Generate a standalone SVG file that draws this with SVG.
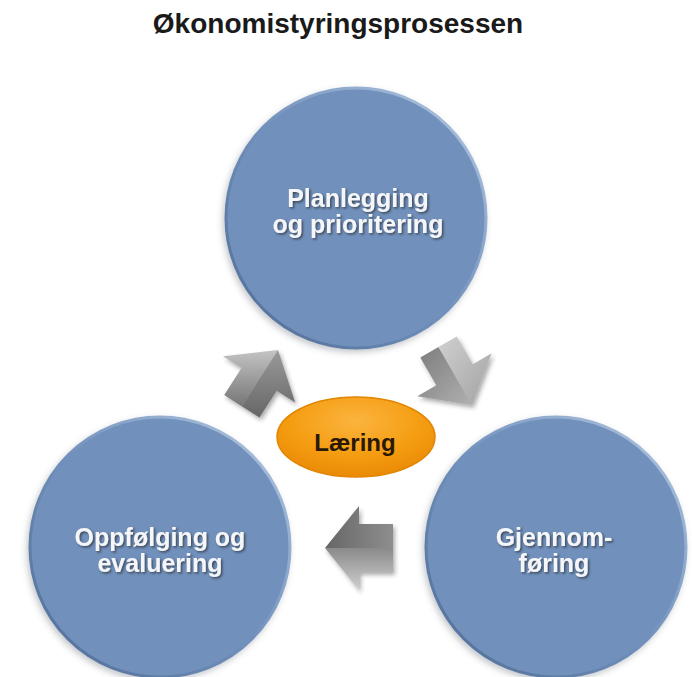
<svg xmlns="http://www.w3.org/2000/svg" width="692" height="677" viewBox="0 0 692 677">
<defs>
<style>
.title{font-family:"Liberation Sans",Arial,sans-serif;font-weight:bold;font-size:28px;fill:#1a1a1a;text-anchor:middle}
.ctext{font-family:"Liberation Sans",Arial,sans-serif;font-weight:bold;font-size:25px;fill:#f4f6f9;text-anchor:middle;filter:url(#tshadow)}
.ltext{font-family:"Liberation Sans",Arial,sans-serif;font-weight:bold;font-size:24px;fill:#2a1800;text-anchor:middle}
.circ{fill:#7191bc;stroke:url(#rim);stroke-width:3;filter:url(#cshadow)}
.arrow{filter:url(#ashadow)}
</style>
<linearGradient id="rim" x1="0" y1="1" x2="1" y2="0">
<stop offset="0" stop-color="#4e6b94"/>
<stop offset="0.5" stop-color="#7191bc"/>
<stop offset="1" stop-color="#b7cae3"/>
</linearGradient>
<radialGradient id="orange" cx="0.5" cy="0.3" r="0.7">
<stop offset="0" stop-color="#fbb43e"/>
<stop offset="0.6" stop-color="#f59d12"/>
<stop offset="1" stop-color="#ea8a05"/>
</radialGradient>
<linearGradient id="g1a" x1="0" y1="0" x2="0" y2="1">
<stop offset="0" stop-color="#c4c4c4"/>
<stop offset="1" stop-color="#767676"/>
</linearGradient>
<linearGradient id="g1b" x1="0" y1="0" x2="0" y2="1">
<stop offset="0" stop-color="#9a9a9a"/>
<stop offset="1" stop-color="#666666"/>
</linearGradient>
<linearGradient id="g2a" x1="0" y1="0" x2="1" y2="1">
<stop offset="0" stop-color="#d0d0d0"/>
<stop offset="1" stop-color="#a2a2a2"/>
</linearGradient>
<linearGradient id="g2b" x1="0" y1="0" x2="1" y2="1">
<stop offset="0" stop-color="#7c7c7c"/>
<stop offset="1" stop-color="#b0b0b0"/>
</linearGradient>
<linearGradient id="g3a" x1="0" y1="0" x2="1" y2="0">
<stop offset="0" stop-color="#666666"/>
<stop offset="1" stop-color="#8e8e8e"/>
</linearGradient>
<linearGradient id="g3b" x1="0" y1="0" x2="0" y2="1">
<stop offset="0" stop-color="#8a8a8a"/>
<stop offset="1" stop-color="#d0d0d0"/>
</linearGradient>
<filter id="cshadow" x="-20%" y="-20%" width="140%" height="140%">
<feDropShadow dx="-2" dy="3" stdDeviation="3" flood-color="#5a6470" flood-opacity="0.35"/>
</filter>
<filter id="ashadow" x="-30%" y="-30%" width="160%" height="160%">
<feDropShadow dx="2" dy="3" stdDeviation="2" flood-color="#333" flood-opacity="0.4"/>
</filter>
<filter id="tshadow" x="-10%" y="-30%" width="120%" height="160%">
<feDropShadow dx="1.5" dy="1.5" stdDeviation="0.8" flood-color="#2e3440" flood-opacity="0.8"/>
</filter>
</defs>
<rect width="692" height="677" fill="#ffffff"/>
<g id="title">
<text class="title" x="338" y="33">Økonomistyringsprosessen</text>
</g>
<g id="node-planlegging">
<circle class="circ" cx="356" cy="218" r="130"/>
<text class="ctext" x="358" y="207">Planlegging</text>
<text class="ctext" x="358" y="233">og prioritering</text>
</g>
<g id="node-oppfolging">
<circle class="circ" cx="160" cy="547" r="130"/>
<text class="ctext" x="160" y="546">Oppfølging og</text>
<text class="ctext" x="160" y="572">evaluering</text>
</g>
<g id="node-gjennomforing">
<circle class="circ" cx="556" cy="547" r="130"/>
<text class="ctext" x="554" y="546">Gjennom-</text>
<text class="ctext" x="554" y="572">føring</text>
</g>
<g id="connectors">
<g id="arrow-oppf-plan" class="arrow">
<polygon points="278,350 241.8,406.3 224.2,395 241.5,368.1 223,356.2" fill="url(#g1a)"/>
<polygon points="278,350 295.2,402.6 276.7,390.7 259.4,417.6 241.8,406.3" fill="url(#g1b)"/>
</g>
<g id="arrow-plan-gjennom" class="arrow">
<polygon points="472,405 438.5,347 420.3,357.5 436.3,385.2 417.3,396.2" fill="url(#g2b)"/>
<polygon points="472,405 491.7,353.2 472.7,364.2 456.7,336.5 438.5,347" fill="url(#g2a)"/>
</g>
<g id="arrow-gjennom-oppf" class="arrow">
<polygon points="325,548 359,506 359,524 393,524 393,548" fill="url(#g3a)"/>
<polygon points="325,548 393,548 393,572 359,572 359,590" fill="url(#g3b)"/>
</g>
</g>
<g id="node-laering">
<ellipse cx="356" cy="437" rx="79" ry="40" fill="url(#orange)" stroke="#e28500" stroke-width="1.5"/>
<text class="ltext" x="355" y="451">Læring</text>
</g>
</svg>
